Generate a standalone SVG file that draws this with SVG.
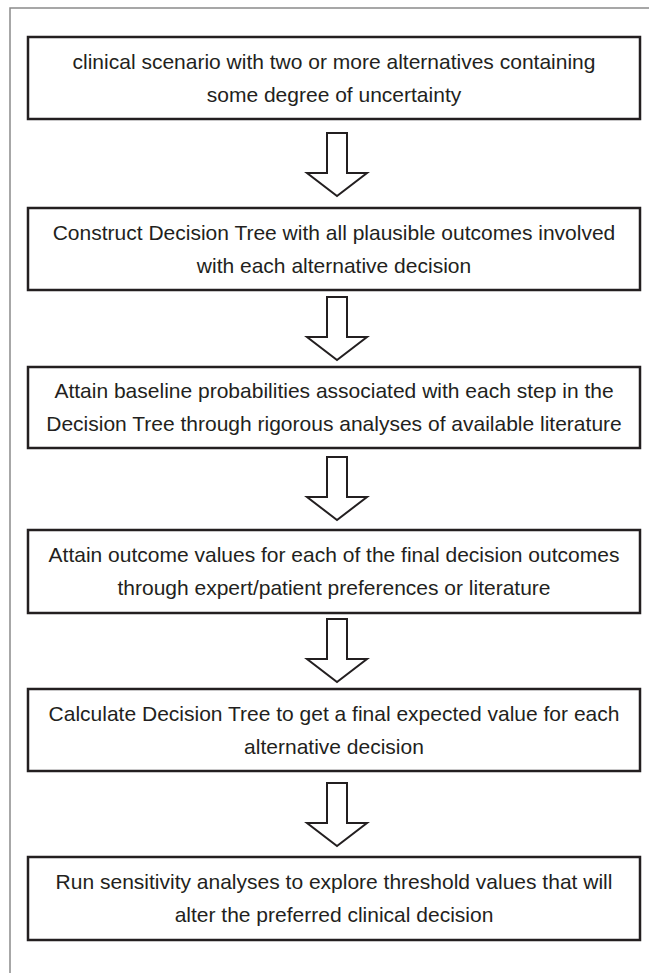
<svg xmlns="http://www.w3.org/2000/svg" width="649" height="973" viewBox="0 0 649 973">
<style>
.frame{fill:none;stroke:#8a8a8a;stroke-width:1.5}
.box{fill:#fff;stroke:#231f20;stroke-width:2.5}
.arr{fill:#fff;stroke:#231f20;stroke-width:2;stroke-linejoin:miter}
text{font-family:"Liberation Sans",Arial,sans-serif;font-size:21px;fill:#231f20;text-anchor:middle}
</style>
<rect width="649" height="973" fill="#fff"/>
<path class="frame" d="M10,973 V8 H649"/>
<g id="connectors">
<path class="arr" d="M327,133 H347 V173 H367 L337,196 L307,173 H327 Z"/>
<path class="arr" d="M327,297 H347 V337 H367 L337,360 L307,337 H327 Z"/>
<path class="arr" d="M327,457 H347 V497 H367 L337,520 L307,497 H327 Z"/>
<path class="arr" d="M327,619 H347 V659 H367 L337,682 L307,659 H327 Z"/>
<path class="arr" d="M327,783 H347 V823 H367 L337,846 L307,823 H327 Z"/>
</g>
<g id="n1"><rect class="box" x="28" y="37" width="612" height="82"/>
<text x="334" y="69">clinical scenario with two or more alternatives containing</text>
<text x="334" y="102">some degree of uncertainty</text></g>
<g id="n2"><rect class="box" x="28" y="208" width="612" height="82"/>
<text x="334" y="240">Construct Decision Tree with all plausible outcomes involved</text>
<text x="334" y="273">with each alternative decision</text></g>
<g id="n3"><rect class="box" x="28" y="367" width="612" height="81"/>
<text x="334" y="398">Attain baseline probabilities associated with each step in the</text>
<text x="334" y="431">Decision Tree through rigorous analyses of available literature</text></g>
<g id="n4"><rect class="box" x="28" y="530" width="612" height="83"/>
<text x="334" y="562">Attain outcome values for each of the final decision outcomes</text>
<text x="334" y="595">through expert/patient preferences or literature</text></g>
<g id="n5"><rect class="box" x="28" y="689" width="612" height="82"/>
<text x="334" y="721">Calculate Decision Tree to get a final expected value for each</text>
<text x="334" y="754">alternative decision</text></g>
<g id="n6"><rect class="box" x="28" y="857" width="612" height="83"/>
<text x="334" y="889">Run sensitivity analyses to explore threshold values that will</text>
<text x="334" y="922">alter the preferred clinical decision</text></g>
</svg>
